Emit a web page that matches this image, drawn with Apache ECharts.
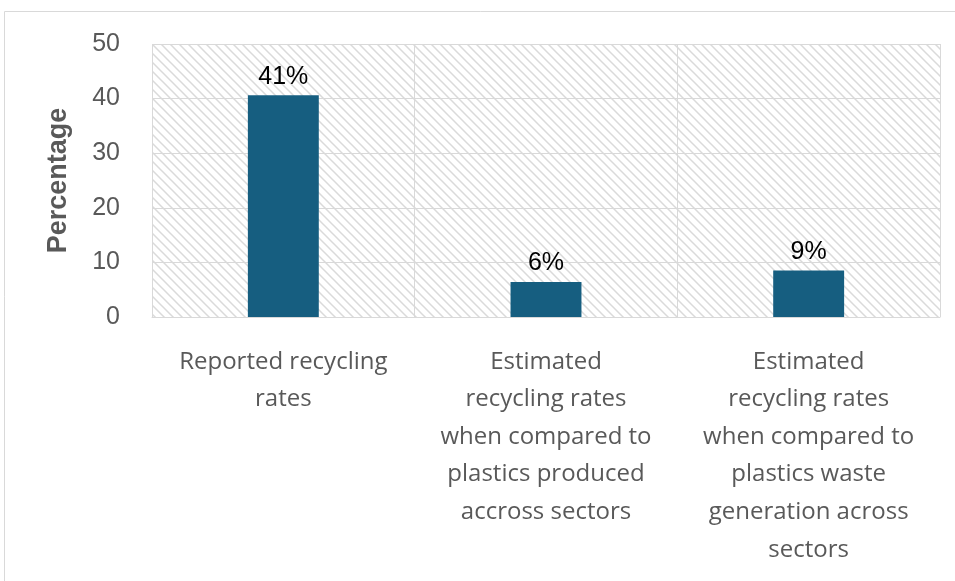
<!DOCTYPE html>
<html>
<head>
<meta charset="utf-8">
<script src="https://cdn.jsdelivr.net/npm/echarts@6/dist/echarts.min.js"></script>
<style>
  html, body { margin: 0; padding: 0; background: #fff; }
  #chart { width: 955px; height: 581px; }
</style>
</head>
<body>
<div id="chart"></div>
<script>
// categories and values
const categories = [
  'Reported recycling\nrates',
  'Estimated\nrecycling rates\nwhen compared to\nplastics produced\naccross sectors',
  'Estimated\nrecycling rates\nwhen compared to\nplastics waste\ngeneration across\nsectors'
]
const values = [40.6, 6.4, 8.5]
const valueLabels = ['41%', '6%', '9%']
const yTicks = [0, 10, 20, 30, 40, 50]

// diagonal hatch for the plot background
function makeHatch() {
  const c = document.createElement('canvas')
  const s = 9
  c.width = s
  c.height = s
  const ctx = c.getContext('2d')
  ctx.fillStyle = '#ffffff'
  ctx.fillRect(0, 0, s, s)
  ctx.strokeStyle = '#dadada'
  ctx.lineWidth = 1.5
  ctx.beginPath()
  ctx.moveTo(-1, -1)
  ctx.lineTo(s + 1, s + 1)
  ctx.moveTo(-2, s - 2)
  ctx.lineTo(2, s + 2)
  ctx.moveTo(s - 2, -2)
  ctx.lineTo(s + 2, 2)
  ctx.stroke()
  return c
}

const chart = echarts.init(document.getElementById('chart'))
chart.setOption({
  animation: false,
  graphic: [
    {
      type: 'rect',
      shape: { x: 4.5, y: 11.5, width: 1200, height: 1000 },
      style: { fill: 'none', stroke: '#d9d9d9', lineWidth: 1 },
      silent: true
    }
  ],
  grid: {
    left: 152,
    right: 15,
    top: 44,
    bottom: 264,
    show: true,
    borderWidth: 0,
    backgroundColor: { image: makeHatch(), repeat: 'repeat' }
  },
  xAxis: {
    type: 'category',
    data: categories,
    axisTick: { show: false },
    axisLine: { show: true, lineStyle: { color: '#d9d9d9', width: 1 } },
    splitLine: { show: true, lineStyle: { color: '#d9d9d9', width: 1 } },
    axisLabel: {
      interval: 0,
      margin: 26,
      color: '#595959',
      fontSize: 24,
      fontFamily: 'Open Sans',
      lineHeight: 37.6,
      align: 'center'
    }
  },
  yAxis: {
    type: 'value',
    min: yTicks[0],
    max: yTicks[yTicks.length - 1],
    interval: 10,
    name: 'Percentage',
    nameLocation: 'middle',
    nameGap: 80,
    nameTextStyle: {
      color: '#595959',
      fontSize: 27,
      fontWeight: 'bold',
      fontFamily: 'Liberation Sans'
    },
    axisLine: { show: false },
    axisTick: { show: false },
    splitLine: { lineStyle: { color: '#d9d9d9', width: 1 } },
    axisLabel: {
      margin: 32,
      color: '#595959',
      fontSize: 25,
      fontFamily: 'Liberation Sans'
    }
  },
  series: [
    {
      type: 'bar',
      data: values,
      barWidth: '27%',
      itemStyle: { color: '#165e80' },
      label: {
        show: true,
        position: 'top',
        distance: 6,
        color: '#000',
        fontSize: 25,
        fontFamily: 'Liberation Sans',
        formatter: (p) => valueLabels[p.dataIndex]
      }
    }
  ]
})
</script>
</body>
</html>
